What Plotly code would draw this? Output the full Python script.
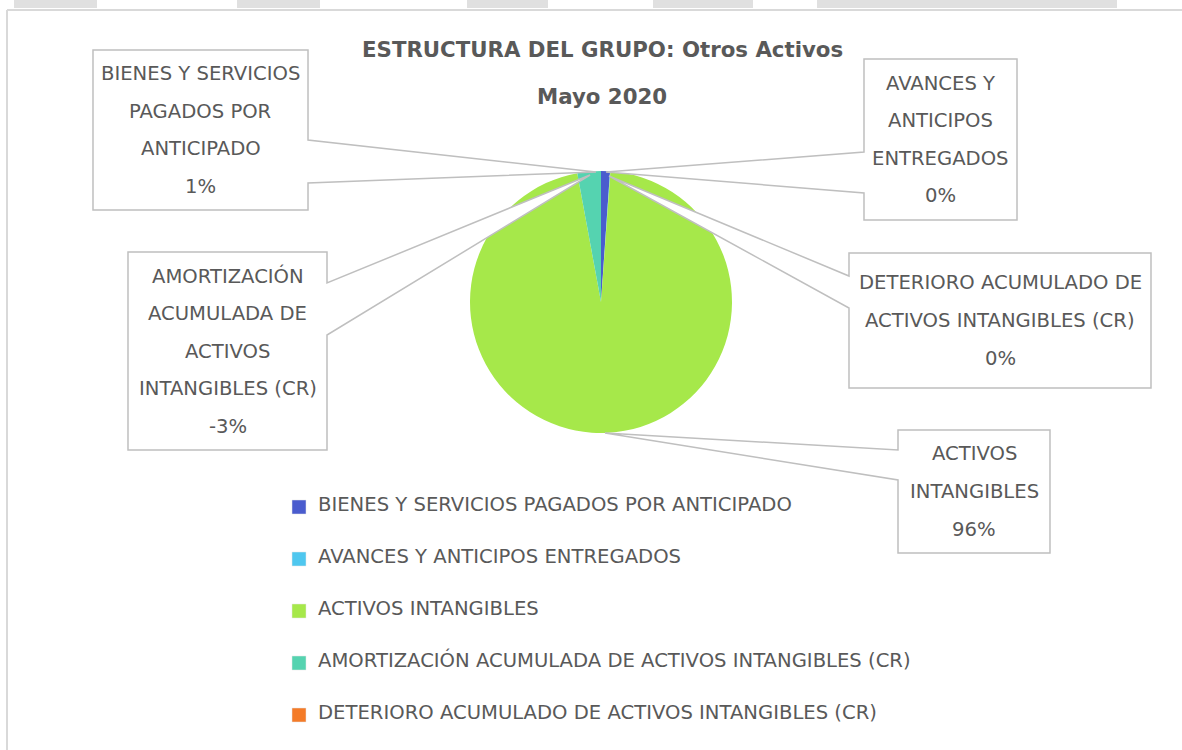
import plotly.graph_objects as go

# ---------------- data ----------------
categories = [
    "BIENES Y SERVICIOS PAGADOS POR ANTICIPADO",
    "AVANCES Y ANTICIPOS ENTREGADOS",
    "ACTIVOS INTANGIBLES",
    "AMORTIZACIÓN ACUMULADA DE ACTIVOS INTANGIBLES (CR)",
    "DETERIORO ACUMULADO DE ACTIVOS INTANGIBLES (CR)",
]
values = [1.1, 0.05, 96.0, -2.9, 0.0]          # estimated shares (signed)
colors = ["#4a5cce", "#4fc7ef", "#a6e84a", "#55d3b0", "#f47b28"]
callout_lines = [
    ["BIENES Y SERVICIOS", "PAGADOS POR", "ANTICIPADO"],
    ["AVANCES Y", "ANTICIPOS", "ENTREGADOS"],
    ["ACTIVOS", "INTANGIBLES"],
    ["AMORTIZACIÓN", "ACUMULADA DE", "ACTIVOS", "INTANGIBLES (CR)"],
    ["DETERIORO ACUMULADO DE", "ACTIVOS INTANGIBLES (CR)"],
]
title_lines = ["ESTRUCTURA DEL GRUPO: Otros Activos", "Mayo 2020"]

W, H = 1182, 750
FONT = "DejaVu Sans"
TXT = "#595959"
BORDER = "#bfbfbf"
FS = 19.6

def px(x):
    return x / W

def py(y):
    return 1 - y / H

total_abs = sum(abs(v) for v in values)
pct_labels = ["%d%%" % round(100 * v / total_abs) for v in values]

fig = go.Figure()
fig.add_trace(go.Pie(
    labels=categories,
    values=[abs(v) for v in values],
    marker=dict(colors=colors, line=dict(width=0)),
    sort=False,
    direction="clockwise",
    rotation=0,
    textinfo="none",
    hoverinfo="label+percent",
    showlegend=False,
    domain=dict(x=[px(470), px(732)], y=[py(433), py(171)]),
))

shapes = []
annotations = []

# page frame / background artefacts
for x0, x1 in [(14, 97), (237, 320), (467, 548), (653, 753), (817, 1117)]:
    shapes.append(dict(type="rect", xref="paper", yref="paper",
                       x0=px(x0), x1=px(x1), y0=py(8), y1=py(0),
                       fillcolor="#e0e0e0", line=dict(width=0), layer="below"))
shapes.append(dict(type="line", xref="paper", yref="paper",
                   x0=px(7), x1=px(1182), y0=py(10), y1=py(10),
                   line=dict(color="#d9d9d9", width=2)))
shapes.append(dict(type="line", xref="paper", yref="paper",
                   x0=px(7), x1=px(7), y0=py(10), y1=py(750),
                   line=dict(color="#d9d9d9", width=2)))

# callout geometry: box (x0,y0,x1,y1), side of pointer, pointer base (ya,yb), tip
callouts = [
    dict(box=(93, 50, 308, 210), side="right", base=(140, 183), tip=(596, 172)),
    dict(box=(864, 59, 1017, 220), side="left", base=(152, 193), tip=(606, 172)),
    dict(box=(898, 430, 1050, 553), side="left", base=(450, 480), tip=(605, 433)),
    dict(box=(128, 252, 327, 450), side="right", base=(283, 335), tip=(590, 175)),
    dict(box=(849, 253, 1151, 388), side="left", base=(276, 308), tip=(609, 176)),
]

def P(x, y):
    return "%.5f,%.5f" % (px(x), py(y))

for i, c in enumerate(callouts):
    x0, y0, x1, y1 = c["box"]
    ya, yb = c["base"]
    tx, ty = c["tip"]
    if c["side"] == "right":
        pts = [(x0, y0), (x1, y0), (x1, ya), (tx, ty), (x1, yb), (x1, y1), (x0, y1)]
    else:
        pts = [(x0, y0), (x1, y0), (x1, y1), (x0, y1), (x0, yb), (tx, ty), (x0, ya)]
    path = "M " + " L ".join(P(*p) for p in pts) + " Z"
    shapes.append(dict(type="path", xref="paper", yref="paper", path=path,
                       fillcolor="white", line=dict(color=BORDER, width=1.5),
                       layer="above"))
    lines = callout_lines[i] + [pct_labels[i]]
    step = 37.6
    cy = (y0 + y1) / 2
    start = cy - step * (len(lines) - 1) / 2
    for k, t in enumerate(lines):
        annotations.append(dict(x=px((x0 + x1) / 2), y=py(start + k * step),
                                xref="paper", yref="paper", text=t, showarrow=False,
                                xanchor="center", yanchor="middle",
                                font=dict(family=FONT, size=FS, color=TXT)))

# title
for k, t in enumerate(title_lines):
    annotations.append(dict(x=px(602), y=py(50 + 46 * k), xref="paper", yref="paper",
                            text="<b>%s</b>" % t, showarrow=False,
                            xanchor="center", yanchor="middle",
                            font=dict(family=FONT, size=21.3, color=TXT)))

# legend (manual, vertical)
for i, cat in enumerate(categories):
    yc = 507 + 52 * i
    shapes.append(dict(type="rect", xref="paper", yref="paper",
                       x0=px(292), x1=px(306), y0=py(yc + 7), y1=py(yc - 7),
                       fillcolor=colors[i], line=dict(color="#e6e6e6", width=0.5)))
    annotations.append(dict(x=px(316), y=py(yc - 3), xref="paper", yref="paper",
                            text=cat, showarrow=False, xanchor="left", yanchor="middle",
                            font=dict(family=FONT, size=FS, color=TXT)))

fig.update_layout(
    width=W, height=H,
    margin=dict(l=0, r=0, t=0, b=0),
    paper_bgcolor="white", plot_bgcolor="white",
    shapes=shapes, annotations=annotations,
    showlegend=False,
)

fig.write_html("out.html", config={"displayModeBar": False},
               post_script="document.body.style.margin='0';")
